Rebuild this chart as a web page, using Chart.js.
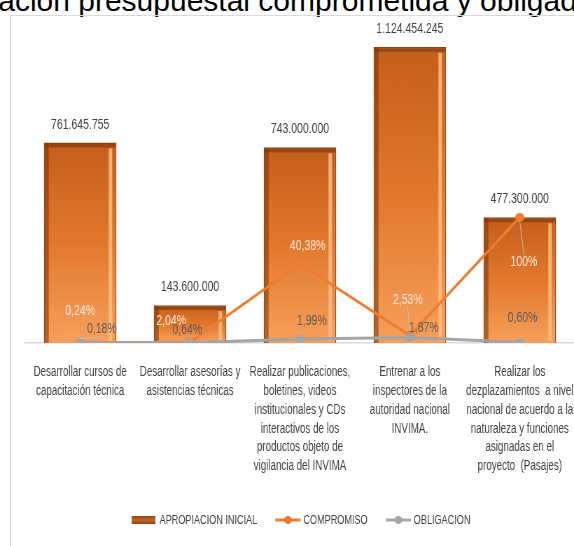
<!DOCTYPE html>
<html>
<head>
    <meta charset="utf-8">
    <title>Apropiación presupuestal comprometida y obligada</title>
    <script src="https://cdn.jsdelivr.net/npm/chart.js@4"></script>
    <style>
        html, body {
            margin: 0;
            padding: 0;
            background: #fff;
            overflow: hidden;
            width: 574px;
            height: 546px;
        }

        #title {
            position: absolute;
            top: -16px;
            left: 0;
            font: 30px 'Liberation Sans', Arial, sans-serif;
            line-height: 34px;
            white-space: nowrap;
            color: #000;
        }

        #frame {
            position: absolute;
            left: 10px;
            top: 15px;
            width: 640px;
            height: 600px;
            border: 1px solid #d9d9d9;
        }

        /* the original chart picture is squeezed horizontally */
        #wrap {
            position: absolute;
            left: 0;
            top: 0;
            width: 829px;
            height: 546px;
            transform: scaleX(0.7);
            transform-origin: 0 0;
        }
    </style>
</head>
<body>
<div id="title"><span id="pre">Ejecución de la apropi</span><span>ación presupuestal comprometida y obligada</span></div>
<div id="frame"></div>
<div id="wrap">
    <canvas id="chart"></canvas>
</div>

<script>
    const categorias = [
        ['Desarrollar cursos de', 'capacitación técnica'],
        ['Desarrollar asesorías y', 'asistencias técnicas'],
        ['Realizar publicaciones,', 'boletines, videos', 'institucionales y CDs', 'interactivos de los', 'productos objeto de', 'vigilancia del INVIMA'],
        ['Entrenar a los', 'inspectores de la', 'autoridad nacional', 'INVIMA.'],
        ['Realizar los', 'dezplazamientos  a nivel', 'nacional de acuerdo a la', 'naturaleza y funciones', 'asignadas en el', 'proyecto  (Pasajes)']
    ];
    const apropiacionInicial = [761645755, 143600000, 743000000, 1124454245, 477300000];
    const compromiso = [1830000, 2930000, 300000000, 28450000, 477300000];
    const obligacion = [1370000, 920000, 14790000, 21030000, 2860000];

    const apropiacionTxt = ['761.645.755', '143.600.000', '743.000.000', '1.124.454.245', '477.300.000'];
    const compromisoPct = ['0,24%', '2,04%', '40,38%', '2,53%', '100%'];
    const obligacionPct = ['0,18%', '0,64%', '1,99%', '1,87%', '0,60%'];

    const FONT = "'Liberation Sans', Arial, sans-serif";
    const SX = 0.7; // horizontal squeeze of #wrap

    // title is cut at the left edge, like in the picture
    document.getElementById('title').style.left = (-document.getElementById('pre').offsetWidth - 2) + 'px';

    // round marker that stays round after the squeeze
    function marker(color) {
        const r = 4.5;
        const c = document.createElement('canvas');
        c.width = Math.ceil(2 * r / SX);
        c.height = 2 * r;
        const cx = c.getContext('2d');
        cx.fillStyle = color;
        cx.beginPath();
        cx.ellipse(c.width / 2, r, r / SX, r, 0, 0, Math.PI * 2);
        cx.fill();
        return c;
    }

    function barFill(context) {
        const chart = context.chart;
        if (!chart.chartArea) return '#E27A2E';
        const yScale = chart.scales.y;
        const top = yScale.getPixelForValue(context.raw);
        const bottom = yScale.getPixelForValue(0);
        const g = chart.ctx.createLinearGradient(0, top, 0, bottom);
        g.addColorStop(0, '#C45E1B');
        g.addColorStop(0.5, '#E2782D');
        g.addColorStop(1, '#F6A05C');
        return g;
    }

    // bevel of the bars
    const bevel = {
        id: 'bevel',
        afterDatasetDraw(chart, args) {
            if (args.index !== 0) return;
            const ctx = chart.ctx;
            args.meta.data.forEach(bar => {
                const left = bar.x - bar.width / 2;
                const right = bar.x + bar.width / 2;
                ctx.save();
                ctx.fillStyle = 'rgba(255, 190, 130, 0.85)';
                ctx.fillRect(right - 11, bar.y + 6, 5, bar.base - bar.y - 8);
                ctx.fillStyle = 'rgba(120, 50, 10, 0.55)';
                ctx.fillRect(left + 1, bar.y + 1, 6, bar.base - bar.y - 1);
                ctx.fillRect(left + 1, bar.y + 1, bar.width - 2, 4);
                ctx.restore();
            });
        }
    };

    // value labels
    const labels = {
        id: 'valueLabels',
        afterDatasetsDraw(chart, args, opts) {
            const ctx = chart.ctx;
            ctx.save();
            ctx.textAlign = 'center';
            ctx.textBaseline = 'middle';

            ctx.font = '15px ' + FONT;
            ctx.fillStyle = '#404040';
            chart.getDatasetMeta(0).data.forEach((bar, i) => {
                ctx.fillText(apropiacionTxt[i], bar.x, bar.y - 18);
            });

            const sets = [
                {meta: chart.getDatasetMeta(1), txt: compromisoPct, color: '#FCEADC', off: opts.compOff, lead: opts.compLead},
                {meta: chart.getDatasetMeta(2), txt: obligacionPct, color: '#595959', off: opts.oblOff, lead: opts.oblLead}
            ];
            sets.forEach(s => {
                s.meta.data.forEach((pt, i) => {
                    const lx = pt.x + s.off[i][0];
                    const ly = pt.y + s.off[i][1];
                    if (s.lead[i]) {
                        ctx.strokeStyle = '#BFBFBF';
                        ctx.lineWidth = 1;
                        ctx.beginPath();
                        ctx.moveTo(lx, ly + (s.off[i][1] < 0 ? 8 : -8));
                        ctx.lineTo(pt.x, pt.y + (s.off[i][1] < 0 ? -4 : 4));
                        ctx.stroke();
                    }
                    ctx.fillStyle = s.color;
                    ctx.fillText(s.txt[i], lx, ly);
                });
            });
            ctx.restore();
        }
    };

    // legend with line + marker, like Excel
    const legend = {
        id: 'excelLegend',
        afterDraw(chart, args, opts) {
            const ctx = chart.ctx;
            ctx.save();
            ctx.font = '13px ' + FONT;
            ctx.textBaseline = 'middle';
            const items = chart.data.datasets.map(ds => ({text: ds.label, type: ds.type, color: ds.borderColor}));
            const sym = 36, gap = 4, space = 26;
            let total = 0;
            items.forEach((it, i) => {
                it.w = ctx.measureText(it.text).width;
                total += sym + gap + it.w + (i ? space : 0);
            });
            let x = opts.centerX - total / 2;
            const y = opts.y;
            items.forEach(it => {
                if (it.type === 'bar') {
                    const g = ctx.createLinearGradient(0, y - 4, 0, y + 4);
                    g.addColorStop(0, '#8E4416');
                    g.addColorStop(0.5, '#C8682A');
                    g.addColorStop(1, '#8E4416');
                    ctx.fillStyle = g;
                    ctx.fillRect(x, y - 4, sym - 2, 8);
                } else {
                    ctx.strokeStyle = it.color;
                    ctx.lineWidth = 3;
                    ctx.beginPath();
                    ctx.moveTo(x, y);
                    ctx.lineTo(x + sym, y);
                    ctx.stroke();
                    ctx.fillStyle = it.color;
                    ctx.beginPath();
                    ctx.ellipse(x + sym / 2, y, 4 / SX, 4, 0, 0, Math.PI * 2);
                    ctx.fill();
                }
                ctx.fillStyle = '#404040';
                ctx.fillText(it.text, x + sym + gap, y);
                x += sym + gap + it.w + space;
            });
            ctx.restore();
        }
    };

    const chart = new Chart(document.getElementById('chart'), {
        data: {
            labels: categorias,
            datasets: [{
                type: 'bar',
                label: 'APROPIACION INICIAL',
                data: apropiacionInicial,
                backgroundColor: barFill,
                borderColor: '#9A4714',
                borderWidth: 1.5,
                barPercentage: 0.66,
                categoryPercentage: 1,
                order: 3
            }, {
                type: 'line',
                label: 'COMPROMISO',
                data: compromiso,
                borderColor: '#ED7D31',
                backgroundColor: '#ED7D31',
                borderWidth: 3,
                pointStyle: marker('#ED7D31'),
                tension: 0,
                order: 2
            }, {
                type: 'line',
                label: 'OBLIGACION',
                data: obligacion,
                borderColor: '#A5A5A5',
                backgroundColor: '#A5A5A5',
                borderWidth: 3,
                pointStyle: marker('#A5A5A5'),
                tension: 0,
                order: 1
            }]
        },
        options: {
            responsive: true,
            maintainAspectRatio: false,
            animation: false,
            events: [],
            layout: {
                padding: {top: 27, left: 36, right: 8, bottom: 0}
            },
            scales: {
                x: {
                    grid: {display: false, drawTicks: false},
                    border: {display: true, color: '#D9D9D9', width: 1.5},
                    ticks: {
                        color: '#404040',
                        font: {family: FONT, size: 14, lineHeight: 1.34},
                        padding: 20,
                        maxRotation: 0,
                        autoSkip: false
                    },
                    afterFit(scale) {
                        scale.height = 203;
                        scale.paddingLeft = 0;
                        scale.paddingRight = 0;
                    }
                },
                y: {
                    display: false,
                    min: 0,
                    max: 1200000000
                }
            },
            plugins: {
                legend: {display: false},
                tooltip: {enabled: false},
                valueLabels: {
                    compOff: [[0, -32], [-27, -21], [11, -18], [-3, -36], [6, 45]],
                    compLead: [false, false, false, true, true],
                    oblOff: [[31, -14], [-4, -13], [17, -18], [20, -10], [4, -24]],
                    oblLead: [true, false, false, false, false]
                },
                excelLegend: {centerX: 430, y: 520}
            }
        },
        plugins: [bevel, labels, legend]
    });
</script>
</body>
</html>
